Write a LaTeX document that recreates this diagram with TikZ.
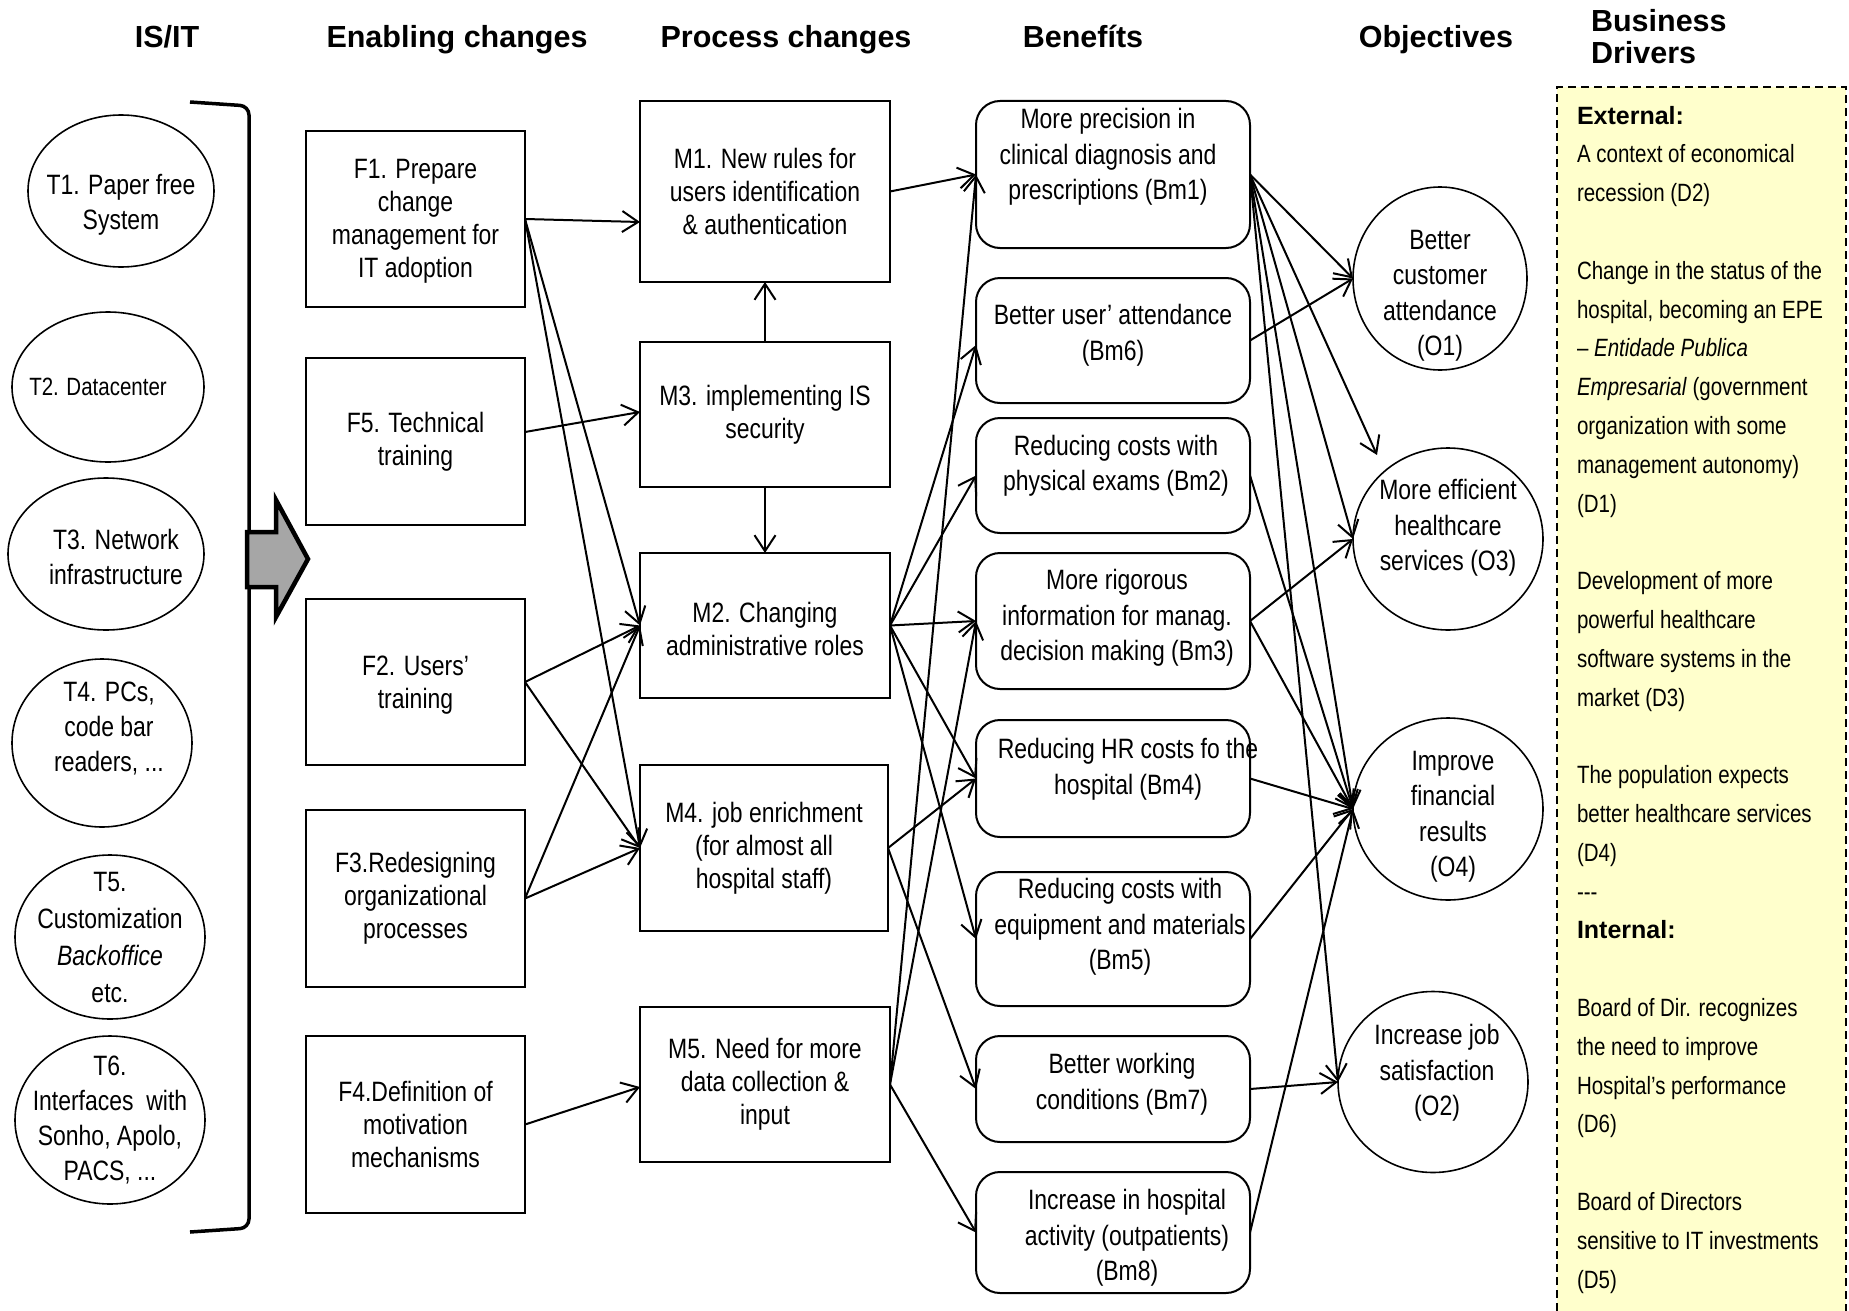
\documentclass[tikz,border=0pt]{standalone}
\usepackage{fontspec}
\setmainfont{Liberation Sans}[FakeStretch=0.82]
\newfontfamily\headfont{Liberation Sans}
\usetikzlibrary{arrows.meta,shapes.geometric}
\definecolor{driverfill}{RGB}{255,255,204}
\definecolor{arrowgray}{RGB}{166,166,166}

\begin{document}
\begin{tikzpicture}[x=1pt,y=-1pt,
  every node/.style={inner sep=0pt,outer sep=0pt},
  head/.style={font=\headfont\bfseries\fontsize{30.5}{34}\selectfont,text height=22pt,text depth=0pt},
  fstep/.style={draw,line width=2pt,minimum width=219pt},
  mstep/.style={draw,line width=2pt,minimum width=250pt},
  bstep/.style={draw,line width=2pt,rounded corners=24pt,minimum width=274pt},
  oval/.style={draw,ellipse,line width=1.6pt},
  body/.style={align=center,font=\fontsize{28}{33}\selectfont},
  bbody/.style={align=center,font=\fontsize{28}{35.5}\selectfont},
  tbody/.style={align=center,font=\fontsize{28}{35}\selectfont},
  conn/.style={line width=2pt,-{Straight Barb[length=16pt,width=21pt,line width=2pt]}},
]
\useasboundingbox (0,0) rectangle (1849,1311);

% column headings
\node[head] (h1) at (167,37) {IS/IT};
\node[head] (h2) at (457,37) {Enabling changes};
\node[head] (h3) at (786,37) {Process changes};
\node[head] (h4) at (1083,37) {Benefíts};
\node[head] (h5) at (1436,37) {Objectives};
\node[anchor=north west,align=left,font=\headfont\bfseries\fontsize{30.5}{32}\selectfont] (h6) at (1591,9.5) {Business\\Drivers};

% business drivers panel
\fill[driverfill] (1557,87) rectangle (1846,1311);
\draw[line width=2pt,dash pattern=on 8pt off 5pt] (1557,1311) -- (1557,87) -- (1846,87) -- (1846,1311);
\node[anchor=north west,align=left,font=\fontsize{25}{38.8}\selectfont] (drv) at (1577,106)
 {{\headfont\bfseries External:}\\
  A context of economical\\
  recession (D2)\\[38.8pt]
  Change in the status of the\\
  hospital, becoming an EPE\\
  – \textit{Entidade Publica}\\
  \textit{Empresarial} (government\\
  organization with some\\
  management autonomy)\\
  (D1)\\[38.8pt]
  Development of more\\
  powerful healthcare\\
  software systems in the\\
  market (D3)\\[38.8pt]
  The population expects\\
  better healthcare services\\
  (D4)\\
  -{}-{}-\\
  {\headfont\bfseries Internal:}\\[38.8pt]
  Board of Dir. recognizes\\
  the need to improve\\
  Hospital’s performance\\
  (D6)\\[38.8pt]
  Board of Directors\\
  sensitive to IT investments\\
  (D5)};

% IS/IT components
\node[oval,minimum width=186pt,minimum height=152pt,label={[tbody,yshift=-13.5pt]center:{T1. Paper free\\System}}] (t1) at (121,191) {};
\node[oval,minimum width=192pt,minimum height=150pt,label={[align=center,font=\fontsize{25}{30}\selectfont,xshift=-10pt]center:{T2. Datacenter}}] (t2) at (108,387) {};
\node[oval,minimum width=196pt,minimum height=152pt,label={[tbody,xshift=10pt,yshift=-3pt]center:{T3. Network\\infrastructure}}] (t3) at (106,554) {};
\node[oval,minimum width=180pt,minimum height=168pt,label={[tbody,xshift=7pt,yshift=14pt]center:{T4. PCs,\\code bar\\readers, ...}}] (t4) at (102,743) {};
\node[oval,minimum width=190pt,minimum height=164pt,label={[align=center,font=\fontsize{28}{37}\selectfont]center:{T5.\\Customization\\\textit{Backoffice}\\etc.}}] (t5) at (110,937) {};
\node[oval,minimum width=190pt,minimum height=168pt,label={[tbody]center:{T6.\\Interfaces\ \ with\\Sonho, Apolo,\\PACS, ...}}] (t6) at (110,1120) {};

% bracket and arrow towards the enabling changes
\draw[line width=3.5pt,rounded corners=9pt] (190,102) -- (249,106) -- (249,1228) -- (190,1232);
\draw[line width=4.5pt,fill=arrowgray,line join=miter] (247,532) -- (276,532) -- (276,500) -- (308,559) -- (276,617) -- (276,587) -- (247,587) -- cycle;

% enabling changes
\node[fstep,minimum height=176pt,label={[body,yshift=-2pt]center:{F1. Prepare\\change\\management for\\IT adoption}}] (f1) at (415.5,219) {};
\node[fstep,minimum height=167pt,label={[body]center:{F5. Technical\\training}}] (f5) at (415.5,441.5) {};
\node[fstep,minimum height=166pt,label={[body,yshift=-3pt]center:{F2. Users’\\training}}] (f2) at (415.5,682) {};
\node[fstep,minimum height=177pt,label={[body]center:{F3.Redesigning\\organizational\\processes}}] (f3) at (415.5,898.5) {};
\node[fstep,minimum height=177pt,label={[body]center:{F4.Definition of\\motivation\\mechanisms}}] (f4) at (415.5,1124.5) {};

% process changes
\node[mstep,minimum height=181pt,label={[body]center:{M1. New rules for\\users identification\\\& authentication}}] (m1) at (765,191.5) {};
\node[mstep,minimum height=145pt,label={[body]center:{M3. implementing IS\\security}}] (m3) at (765,414.5) {};
\node[mstep,minimum height=145pt,label={[body,yshift=-3pt]center:{M2. Changing\\administrative roles}}] (m2) at (765,625.5) {};
\node[mstep,minimum width=248pt,minimum height=166pt,label={[body]center:{M4. job enrichment\\(for almost all\\hospital staff)}}] (m4) at (764,848) {};
\node[mstep,minimum height=155pt,label={[body]center:{M5. Need for more\\data collection \&\\input}}] (m5) at (765,1084.5) {};

% benefits
\node[bstep,minimum height=147pt,label={[bbody,xshift=-5pt,yshift=17.5pt]center:{More precision in\\clinical diagnosis and\\prescriptions (Bm1)}}] (bm1) at (1113,174.5) {};
\node[bstep,minimum height=125pt,label={[bbody,yshift=5pt]center:{Better user’ attendance\\(Bm6)}}] (bm6) at (1113,340.5) {};
\node[bstep,minimum height=115pt,label={[bbody,xshift=3pt,yshift=9.5pt]center:{Reducing costs with\\physical exams (Bm2)}}] (bm2) at (1113,475.5) {};
\node[bstep,minimum height=136pt,label={[bbody,xshift=4pt,yshift=3pt]center:{More rigorous\\information for manag.\\decision making (Bm3)}}] (bm3) at (1113,621) {};
\node[bstep,minimum height=117pt,label={[bbody,xshift=15pt,yshift=9pt]center:{Reducing HR costs fo the\\hospital (Bm4)}}] (bm4) at (1113,778.5) {};
\node[bstep,minimum height=134pt,label={[bbody,xshift=7pt,yshift=12pt]center:{Reducing costs with\\equipment and materials\\(Bm5)}}] (bm5) at (1113,939) {};
\node[bstep,minimum height=106pt,label={[bbody,xshift=9pt,yshift=5pt]center:{Better working\\conditions (Bm7)}}] (bm7) at (1113,1089) {};
\node[bstep,minimum height=121pt,label={[bbody,xshift=14pt,yshift=-5.5pt]center:{Increase in hospital\\activity (outpatients)\\(Bm8)}}] (bm8) at (1113,1232.5) {};

% objectives
\node[oval,minimum width=174pt,minimum height=183pt,label={[bbody,yshift=-17.5pt]center:{Better\\customer\\attendance\\(O1)}}] (o1) at (1440,278.5) {};
\node[oval,minimum width=190pt,minimum height=182pt,label={[bbody,yshift=11pt]center:{More efficient\\healthcare\\services (O3)}}] (o3) at (1448,539) {};
\node[oval,minimum width=190pt,minimum height=182pt,label={[bbody,xshift=5pt,yshift=-8pt]center:{Improve\\financial\\results\\(O4)}}] (o4) at (1448,809) {};
\node[oval,minimum width=190pt,minimum height=181pt,label={[bbody,xshift=4pt,yshift=9pt]center:{Increase job\\satisfaction\\(O2)}}] (o2) at (1433,1082) {};
\coordinate (o3above) at (1377,455);

% enabling changes -> process changes
\draw[conn] (f1.east) -- ([yshift=-30.5pt]m1.west);
\draw[conn] (f1.east) -- (m2.west);
\draw[conn] (f1.east) -- (m4.west);
\draw[conn] ([yshift=9.5pt]f5.east) -- ([yshift=2.5pt]m3.west);
\draw[conn] (f2.east) -- (m2.west);
\draw[conn] (f2.east) -- (m4.west);
\draw[conn] (f3.east) -- (m2.west);
\draw[conn] (f3.east) -- (m4.west);
\draw[conn] (f4.east) -- ([yshift=-2.5pt]m5.west);
\draw[conn] (m3.north) -- (m1.south);
\draw[conn] (m3.south) -- (m2.north);

% process changes -> benefits
\draw[conn] (m1.east) -- (bm1.west);
\draw[conn] (m2.east) -- ([yshift=-4.5pt]bm6.west);
\draw[conn] (m2.east) -- (bm2.west);
\draw[conn] (m2.east) -- (bm3.west);
\draw[conn] (m2.east) -- (bm4.west);
\draw[conn] (m2.east) -- (bm5.west);
\draw[conn] (m4.east) -- (bm4.west);
\draw[conn] (m4.east) -- (bm7.west);
\draw[conn] (m5.east) -- (bm1.west);
\draw[conn] (m5.east) -- (bm3.west);
\draw[conn] (m5.east) -- (bm8.west);

% benefits -> objectives
\draw[conn] (bm1.east) -- (o1.west);
\draw[conn] (bm1.east) -- (o3above);
\draw[conn] (bm1.east) -- (o3.west);
\draw[conn] (bm1.east) -- (o4.west);
\draw[conn] (bm1.east) -- (o2.west);
\draw[conn] (bm6.east) -- (o1.west);
\draw[conn] (bm2.east) -- (o4.west);
\draw[conn] (bm3.east) -- (o3.west);
\draw[conn] (bm3.east) -- (o4.west);
\draw[conn] (bm4.east) -- (o4.west);
\draw[conn] (bm5.east) -- (o4.west);
\draw[conn] (bm7.east) -- (o2.west);
\draw[conn] (bm8.east) -- (o4.west);
\end{tikzpicture}
\end{document}
